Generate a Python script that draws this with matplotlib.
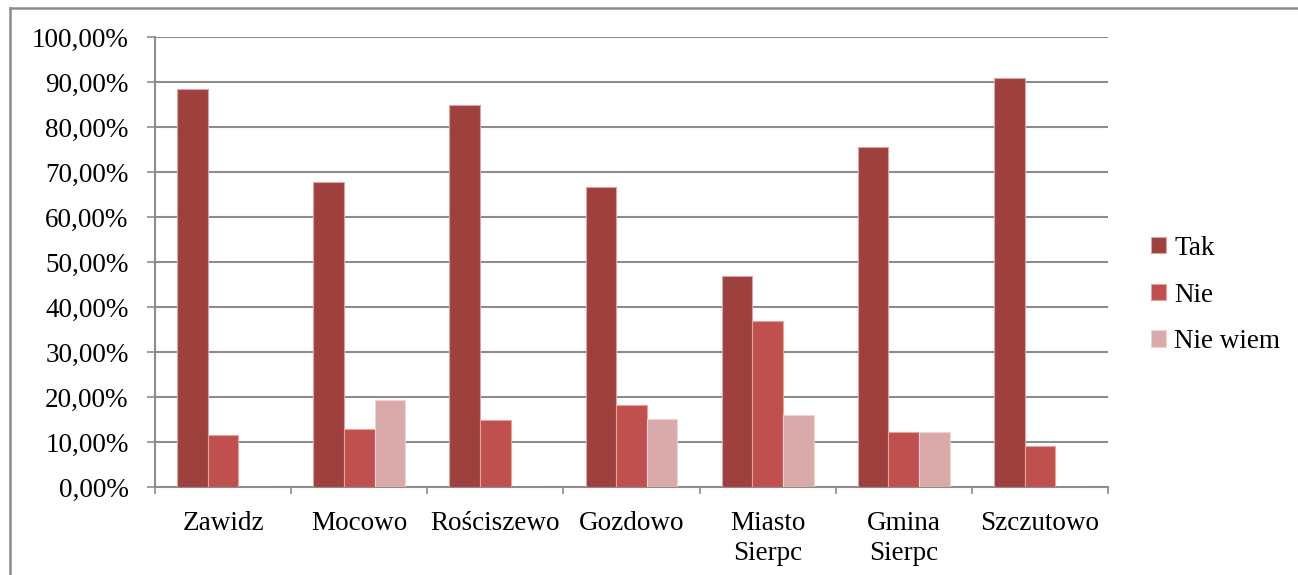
import matplotlib.pyplot as plt
from matplotlib.lines import Line2D
from matplotlib.ticker import FuncFormatter

categories = ["Zawidz", "Mocowo", "Rościszewo", "Gozdowo", "Miasto\nSierpc", "Gmina\nSierpc", "Szczutowo"]
tak = [88.46, 67.74, 85.00, 66.67, 47.00, 75.61, 90.91]
nie = [11.54, 12.90, 15.00, 18.18, 37.00, 12.20, 9.09]
nie_wiem = [0.0, 19.35, 0.0, 15.15, 16.00, 12.20, 0.0]
series_names = ["Tak", "Nie", "Nie wiem"]
colors = ["#9E413E", "#C0504D", "#DAAAAA"]
edges = ["#D9A5A3", "#E2A3A1", "#EDD3D3"]

plt.rcParams["font.family"] = ["Liberation Serif", "DejaVu Serif"]
FS = 19.5

fig = plt.figure(figsize=(12.98, 5.75), dpi=100)
ax = fig.add_axes([155 / 1298, 1 - 487 / 575, (1108 - 155) / 1298, (487 - 37) / 575])

w = 0.225
x = list(range(len(categories)))
for j, vals in enumerate([tak, nie, nie_wiem]):
    ax.bar([i + (j - 1) * w for i in x], vals, width=w, color=colors[j],
           edgecolor=edges[j], linewidth=0.8, label=series_names[j], zorder=3)

ax.set_xlim(-0.5, len(categories) - 0.5)
ax.set_ylim(0, 100)
ax.set_yticks(range(0, 101, 10))
ax.yaxis.set_major_formatter(FuncFormatter(lambda v, p: f"{v:.2f}%".replace(".", ",")))
ax.set_xticks(x)
ax.set_xticklabels(categories, linespacing=1.3)
ax.set_xticks([i - 0.5 for i in range(len(categories) + 1)], minor=True)

grid_c = "#8C8C8C"
ax.grid(axis="y", color=grid_c, linewidth=1.5, zorder=0)
ax.set_axisbelow(True)
for s in ["top", "right"]:
    ax.spines[s].set_visible(False)
for s in ["left", "bottom"]:
    ax.spines[s].set_color(grid_c)
    ax.spines[s].set_linewidth(1.5)

ax.tick_params(axis="y", length=6, width=1.2, color=grid_c, labelsize=FS, pad=13)
ax.tick_params(axis="x", which="major", length=0, labelsize=FS, pad=17)
ax.tick_params(axis="x", which="minor", length=5, width=1.2, color=grid_c)

fig.legend(loc="center left", bbox_to_anchor=(1151 / 1298, 1 - 295 / 575), frameon=False,
           fontsize=FS, handlelength=0.55, handleheight=0.55, handletextpad=0.3,
           labelspacing=0.8, borderpad=0, borderaxespad=0)

# outer chart border (top and left visible)
fig.add_artist(Line2D([10 / 1298, 10 / 1298], [0, 1 - 8 / 575], transform=fig.transFigure,
                      color=grid_c, linewidth=1.8))
fig.add_artist(Line2D([10 / 1298, 1], [1 - 8 / 575, 1 - 8 / 575], transform=fig.transFigure,
                      color=grid_c, linewidth=1.8))

fig.savefig("out.png", dpi=100)
